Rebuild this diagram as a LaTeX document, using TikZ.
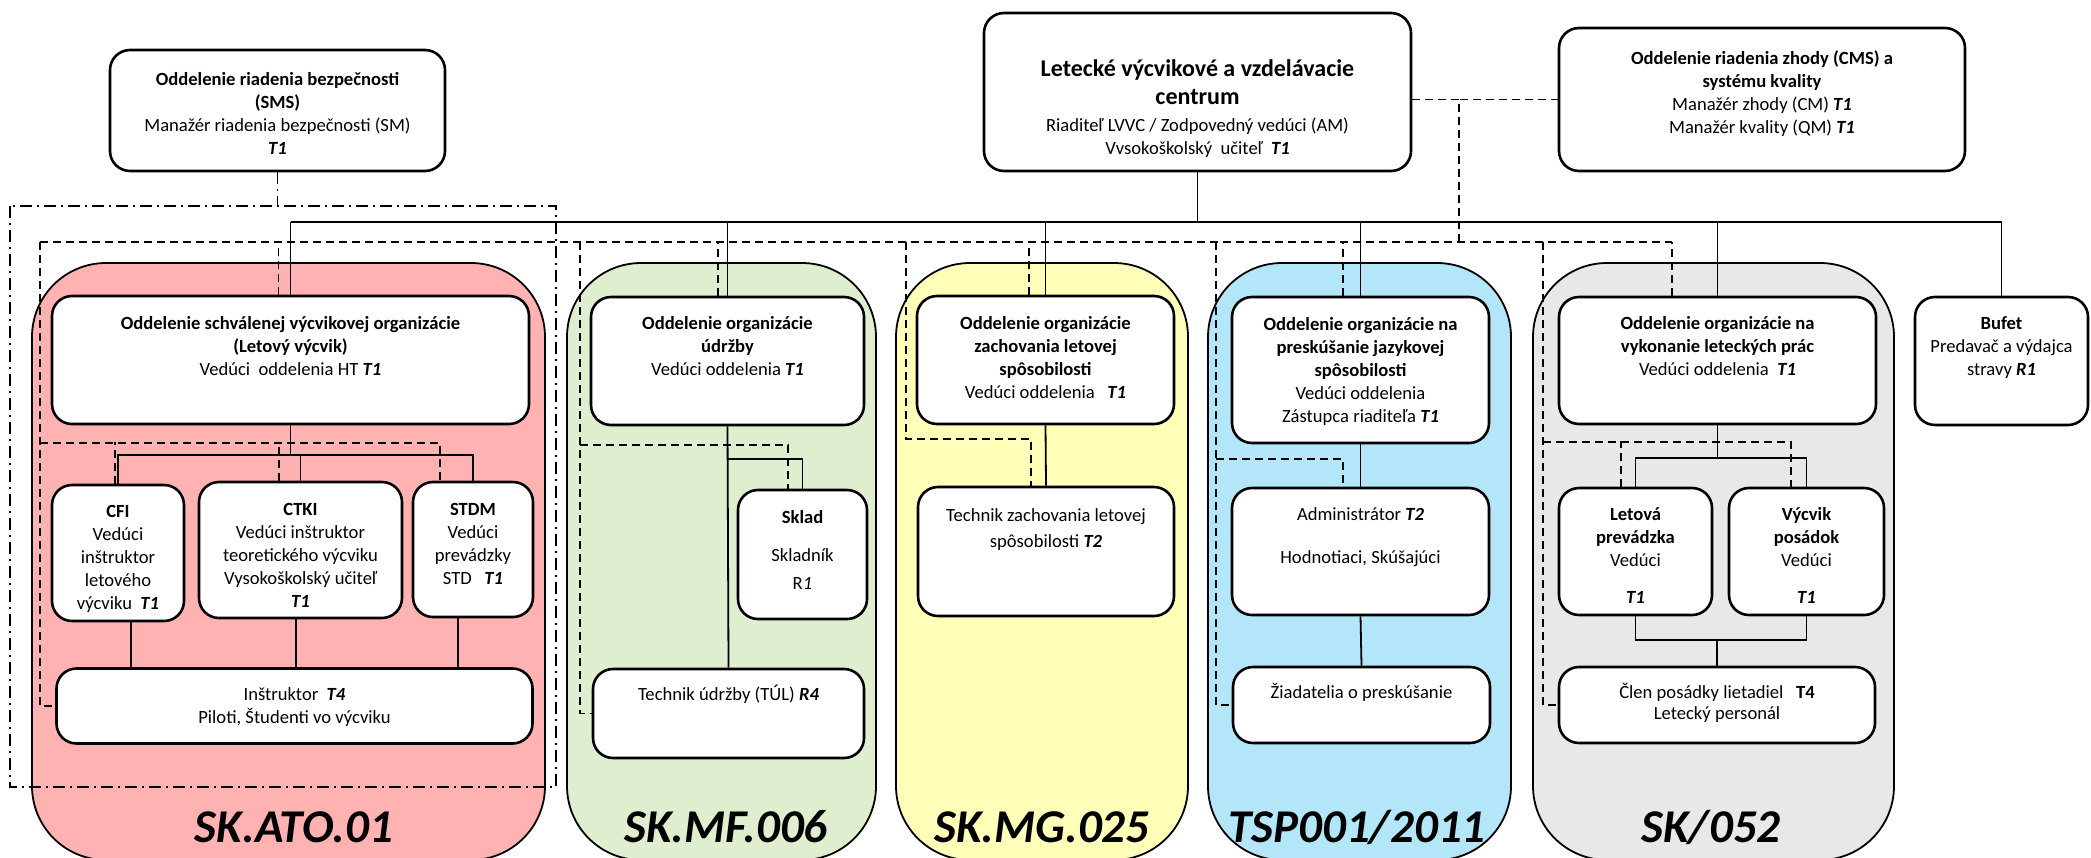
\documentclass[tikz,border=0pt]{standalone}
\usepackage{fontspec}
\setmainfont{Carlito}
\usetikzlibrary{calc,positioning}
\tikzstyle{unit}=[draw=black, fill=white, rounded corners=10pt, line width=1.3pt, inner sep=0pt]
\tikzstyle{grp}=[draw=black, rounded corners=37pt, line width=0.9pt, minimum height=298.5pt, inner sep=0pt]
\tikzstyle{code}=[font=\fontsize{23.5}{27}\selectfont\bfseries\itshape]
\tikzstyle{l1}=[line width=0.9pt]
\tikzstyle{l2}=[line width=0.85pt, dash pattern=on 4pt off 2.5pt]
\tikzstyle{l3}=[line width=0.9pt, dash pattern=on 6pt off 2.5pt on 1pt off 2.5pt]
\usepackage{xcolor}
\definecolor{mred}{HTML}{FFB2B2}
\definecolor{mgreen}{HTML}{DEEECE}
\definecolor{myellow}{HTML}{FFFFB9}
\definecolor{mblue}{HTML}{B3E6F8}
\definecolor{mgrey}{HTML}{E8E8E8}
\newlength{\pxu}\setlength{\pxu}{0.5pt}
\newcommand{\boxtext}[4]{\parbox[c][#2\pxu][t]{#1\pxu}{\centering\vspace*{#3\pxu}\strut#4\par}}
\newcommand{\grade}[1]{\textbf{\textit{#1}}}

\begin{document}
\begin{tikzpicture}[x=0.5pt, y=-0.5pt, font=\fontsize{9.3}{11.5}\selectfont]

    \useasboundingbox (0,0) rectangle (2091,857);

    % certificate groups
    \node[grp, fill=mred, minimum width=256.5pt] at (288.5,561.5) (atogrp) {};
    \node[grp, fill=mgreen, minimum width=154.5pt] at (721.5,561.5) (mfgrp) {};
    \node[grp, fill=myellow, minimum width=146pt] at (1042,561.5) (mggrp) {};
    \node[grp, fill=mblue, minimum width=151.5pt] at (1359.5,561.5) (tspgrp) {};
    \node[grp, fill=mgrey, minimum width=180.5pt] at (1713.5,561.5) (skgrp) {};
    \node[code] at (294,827) (atolbl) {SK.ATO.01};
    \node[code] at (726,827) (mflbl) {SK.MF.006};
    \node[code] at (1042,827) (mglbl) {SK.MG.025};
    \node[code] at (1357,827) (tsplbl) {TSP001/2011};
    \node[code] at (1711,827) (sklbl) {SK/052};

    % top level
    \node[unit] at (277.5,110.5) (sms) {\boxtext{335}{121}{19}{\textbf{Oddelenie riadenia bezpečnosti\\(SMS)}\\Manažér riadenia bezpečnosti (SM)\\\grade{T1}}};
    \node[unit] at (1197.5,92) (lvvc) {\boxtext{427}{158}{47}{{\fontsize{12}{14}\selectfont\bfseries Letecké výcvikové a vzdelávacie\\centrum\par}\vspace{2pt}Riaditeľ LVVC / Zodpovedný vedúci (AM)\\Vvsokoškolský\ \ učiteľ\ \ \grade{T1}}};
    \node[unit] at (1762,99.5) (cms) {\boxtext{406}{143}{20}{\textbf{Oddelenie riadenia zhody (CMS) a\\systému kvality}\\Manažér zhody (CM) \grade{T1}\\Manažér kvality (QM) \grade{T1}}};

    % SK.ATO.01
    \node[unit] at (290.5,360) (atomain) {\boxtext{477}{128}{17}{\textbf{Oddelenie schválenej výcvikovej organizácie\\(Letový výcvik)}\\Vedúci\ \ oddelenia HT \grade{T1}}};
    \node[unit] at (118,553) (cfi) {\boxtext{132}{136}{16}{\textbf{CFI}\\Vedúci\\inštruktor\\letového\\výcviku\ \ \grade{T1}}};
    \node[unit] at (300.5,550) (ctki) {\boxtext{203}{136}{17}{\textbf{CTKI}\\Vedúci inštruktor\\teoretického výcviku\\Vysokoškolský učiteľ\\\grade{T1}}};
    \node[unit] at (473,549.5) (stdm) {\boxtext{120}{135}{17}{\textbf{STDM}\\Vedúci\\prevádzky\\STD\ \ \ \grade{T1}}};
    \node[unit] at (294.5,706) (instr) {\boxtext{476}{75}{16}{Inštruktor\ \ \grade{T4}\\Piloti, Študenti vo výcviku}};

    % SK.MF.006
    \node[unit] at (727.5,361) (mfmain) {\boxtext{273}{128}{16}{\textbf{Oddelenie organizácie\\údržby}\\Vedúci oddelenia \grade{T1}}};
    \node[unit] at (802.5,554.5) (sklad) {\boxtext{129}{129}{17}{\textbf{Sklad}\\[7.5pt]Skladník\\[2.5pt]R\textit{1}}};
    \node[unit] at (728.5,713.5) (tul) {\boxtext{271}{89}{15}{Technik údržby (TÚL) \grade{R4}}};

    % SK.MG.025
    \node[unit] at (1045.5,360) (mgmain) {\boxtext{257}{128}{17}{\textbf{Oddelenie organizácie\\zachovania letovej\\spôsobilosti}\\Vedúci oddelenia\ \ \ \grade{T1}}};
    \node[unit] at (1046,551.5) (tzach) {\boxtext{256}{129}{18}{Technik zachovania letovej\\[1.5pt]spôsobilosti \grade{T2}}};

    % TSP001/2011
    \node[unit] at (1360.5,370) (tspmain) {\boxtext{257}{146}{17}{\textbf{Oddelenie organizácie na\\preskúšanie jazykovej\\spôsobilosti}\\Vedúci oddelenia\\Zástupca riaditeľa \grade{T1}}};
    \node[unit] at (1360.5,551.5) (admin) {\boxtext{257}{127}{16}{Administrátor \grade{T2}\\[10pt]Hodnotiaci, Skúšajúci}};
    \node[unit] at (1361.5,705) (ziad) {\boxtext{257}{76}{15}{Žiadatelia o preskúšanie}};

    % SK/052
    \node[unit] at (1717.5,360.5) (skmain) {\boxtext{317}{127}{16}{\textbf{Oddelenie organizácie na\\vykonanie leteckých prác}\\Vedúci oddelenia\ \ \grade{T1}}};
    \node[unit] at (1635.5,551.5) (letova) {\boxtext{153}{127}{16}{\textbf{Letová\\prevádzka}\\Vedúci\\[7pt]\grade{T1}}};
    \node[unit] at (1806.5,551.5) (vycvik) {\boxtext{155}{127}{16}{\textbf{Výcvik\\posádok}\\Vedúci\\[7pt]\grade{T1}}};
    \node[unit] at (1717,705) (clen) {\boxtext{316}{76}{15}{Člen posádky lietadiel\ \ \ \textbf{T4}\\[-1pt]Letecký personál}};

    \node[unit] at (2001.5,361) (bufet) {\boxtext{173}{128}{16}{\textbf{Bufet}\\Predavač a výdajca\\stravy \grade{R1}}};

    % solid lines
    \coordinate (bus) at (290,222);
    \draw[l1] (lvvc.south) -- (lvvc.south |- bus);
    \draw[l1] (atomain.north |- bus) -- (bufet.north |- bus);
    \foreach \n in {atomain,mfmain,mgmain,tspmain,skmain,bufet}
        \draw[l1] (\n.north) -- (\n.north |- bus);

    \draw[l1] (atomain.south) -- ++(0,30) coordinate (atoj);
    \draw[l1] (cfi.north) |- (atoj) -| (stdm.north);
    \draw[l1] (ctki.north) -- (ctki.north |- atoj);
    \foreach \n/\s/\l in {cfi/13/47.5,ctki/-4.5/50.5,stdm/-15/51.5}
        \draw[l1] ($(\n.south)+(\s,0)$) -- ++(0,\l);

    \draw[l1] (mfmain.south) -- (tul.north);
    \draw[l1] (sklad.north) |- ($(mfmain.south)+(0,33)$);
    \draw[l1] (mgmain.south) -- (tzach.north);
    \draw[l1] (tspmain.south) -- (admin.north);
    \draw[l1] (admin.south) -- (ziad.north);

    \draw[l1] (skmain.south) -- ++(0,33) coordinate (skj);
    \draw[l1] (letova.north) |- (skj) -| (vycvik.north);
    \draw[l1] (clen.north) -- ++(0,-26) coordinate (clj);
    \draw[l1] (letova.south) |- (clj) -| (vycvik.south);

    % dashed lines
    \coordinate (dbus) at (40,242);
    \coordinate (atod) at ($(atomain.north)+(-12,0)$);
    \coordinate (mfd) at ($(mfmain.north)+(-9.5,0)$);
    \coordinate (mgd) at ($(mgmain.north)+(-16.5,0)$);
    \coordinate (tspd) at ($(tspmain.north)+(-17.5,0)$);
    \coordinate (skd) at ($(skmain.north)+(-45.5,0)$);
    \draw[l2] (dbus) -- (dbus -| skd);
    \foreach \d in {atod,mfd,mgd,tspd,skd}
        \draw[l2] (\d) -- (\d |- dbus);
    \coordinate (cmsd) at (1459,242);
    \draw[l2] (cmsd) -- (cmsd |- cms.west) -- (cms.west);
    \draw[l2] (lvvc.east |- cms.west) -- (cmsd |- cms.west);

    \draw[l2] (dbus) |- (instr.west);
    \coordinate (atob) at (40,443);
    \draw[l2] (atob) -| ($(stdm.north)+(-33,0)$);
    \draw[l2] ($(cfi.north)+(-3,0)$) -- ++(0,-42);
    \draw[l2] ($(ctki.north)+(-21.5,0)$) -- ++(0,-39);

    \coordinate (mfl) at (580,242);
    \draw[l2] (mfl) |- (tul.west);
    \coordinate (mfb) at (580,445);
    \draw[l2] (mfb) -| ($(sklad.north)+(-14.5,0)$);

    \coordinate (mgl) at (906,242);
    \draw[l2] (mgl) |- ($(tzach.north)+(-15,-47)$) -- ($(tzach.north)+(-15,0)$);

    \coordinate (tspl) at (1216,242);
    \draw[l2] (tspl) |- (ziad.west);
    \coordinate (tspb) at (1216,459);
    \draw[l2] (tspb) -| ($(admin.north)+(-17.5,0)$);

    \coordinate (skl) at (1543,242);
    \draw[l2] (skl) |- (clen.west);
    \coordinate (skb) at (1543,442);
    \draw[l2] (skb) -| ($(vycvik.north)+(-15.5,0)$);
    \draw[l2] ($(letova.north)+(-14.5,0)$) -- ++(0,-46);

    % safety frame
    \coordinate (safe) at (10,206);
    \draw[l3] (sms.south) -- (sms.south |- safe);
    \draw[l3] (safe) rectangle (556,787);

\end{tikzpicture}
\end{document}
